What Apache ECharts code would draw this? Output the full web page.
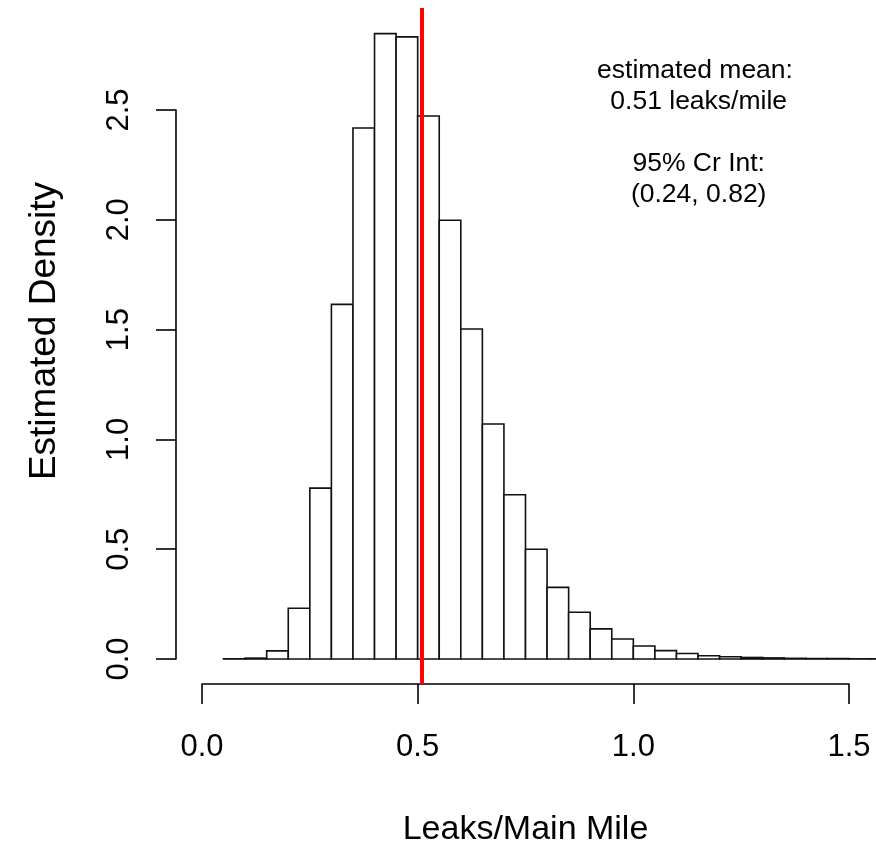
<!DOCTYPE html>
<html><head><meta charset="utf-8">
<script src="https://cdn.jsdelivr.net/npm/echarts@6/dist/echarts.min.js"></script>
<style>html,body{margin:0;padding:0;background:#fff}#c{width:876px;height:842px}</style>
</head><body><div id="c"></div>
<script>
// ---- data ----
const binWidth = 0.05;
const binStarts = [0.05,0.10,0.15,0.20,0.25,0.30,0.35,0.40,0.45,0.50,0.55,0.60,0.65,0.70,0.75,0.80,0.85,0.90,0.95,1.00,1.05,1.10,1.15,1.20,1.25,1.30,1.35,1.40,1.45,1.50,1.55,1.60];
const densities = [0.001,0.004,0.037,0.231,0.778,1.615,2.418,2.848,2.833,2.473,1.998,1.503,1.070,0.748,0.500,0.326,0.213,0.137,0.091,0.059,0.038,0.025,0.015,0.010,0.007,0.005,0.003,0.002,0.002,0.001,0.001,0.001];
const xTickLabels = ['0.0','0.5','1.0','1.5'];
const yTickLabels = ['0.0','0.5','1.0','1.5','2.0','2.5'];
const meanValue = 0.51;
const meanLineExtent = [-0.114, 2.964];
const annotationLines = ['estimated mean:', ' 0.51 leaks/mile', '', ' 95% Cr Int:', ' (0.24, 0.82)'];
const xTitle = 'Leaks/Main Mile';
const yTitle = 'Estimated Density';

const FONT = '"Liberation Sans", Arial, Helvetica, sans-serif';
const histData = binStarts.map((s, i) => [s, s + binWidth, densities[i]]);

const chart = echarts.init(document.getElementById('c'), null, {renderer: 'canvas'});
chart.setOption({
  animation: false,
  backgroundColor: '#fff',
  grid: {left: 202, right: 27, top: 110, bottom: 183, containLabel: false, outerBoundsMode: 'none'},
  xAxis: {
    type: 'value', min: 0, max: 1.5, interval: 0.5, offset: 25,
    splitLine: {show: false},
    axisLine: {show: true, onZero: false, lineStyle: {color: '#000', width: 1.6}},
    axisTick: {show: true, inside: false, length: 20, lineStyle: {color: '#000', width: 1.6}},
    axisLabel: {
      margin: 48, color: '#000', fontFamily: FONT, fontSize: 31,
      formatter: v => xTickLabels[Math.round(v / 0.5)]
    },
    name: xTitle, nameLocation: 'middle', nameGap: 129,
    nameTextStyle: {color: '#000', fontFamily: FONT, fontSize: 34}
  },
  yAxis: {
    type: 'value', min: 0, max: 2.5, interval: 0.5, offset: 26,
    splitLine: {show: false},
    axisLine: {show: true, onZero: false, lineStyle: {color: '#000', width: 1.6}},
    axisTick: {show: true, inside: false, length: 20, lineStyle: {color: '#000', width: 1.6}},
    axisLabel: {
      margin: 41, rotate: 90, color: '#000', fontFamily: FONT, fontSize: 31,
      formatter: v => yTickLabels[Math.round(v / 0.5)]
    }
  },
  graphic: [
    {
      type: 'text', x: 45, y: 331, rotation: Math.PI / 2,
      style: {text: yTitle, fill: '#000', font: '37px ' + FONT, textAlign: 'center', textVerticalAlign: 'middle'}
    },
    {
      type: 'text', x: 695, y: 55,
      style: {text: annotationLines.join('\n'), fill: '#000', font: '26.5px ' + FONT, lineHeight: 31, textAlign: 'center', textVerticalAlign: 'top'}
    }
  ],
  series: [
    {
      type: 'custom',
      clip: false,
      data: histData,
      encode: {x: [0, 1], y: 2},
      renderItem: function (params, api) {
        const x0 = api.value(0), x1 = api.value(1), y = api.value(2);
        const p0 = api.coord([x0, y]);
        const p1 = api.coord([x1, 0]);
        return {
          type: 'rect',
          shape: {x: p0[0], y: p0[1], width: p1[0] - p0[0], height: p1[1] - p0[1]},
          style: {fill: '#fff', stroke: '#111', lineWidth: 1.6}
        };
      }
    },
    {
      type: 'line',
      clip: false,
      symbol: 'none',
      z: 5,
      data: meanLineExtent.map(y => [meanValue, y]),
      lineStyle: {color: '#ff0000', width: 4}
    }
  ]
});
</script>
</body></html>
